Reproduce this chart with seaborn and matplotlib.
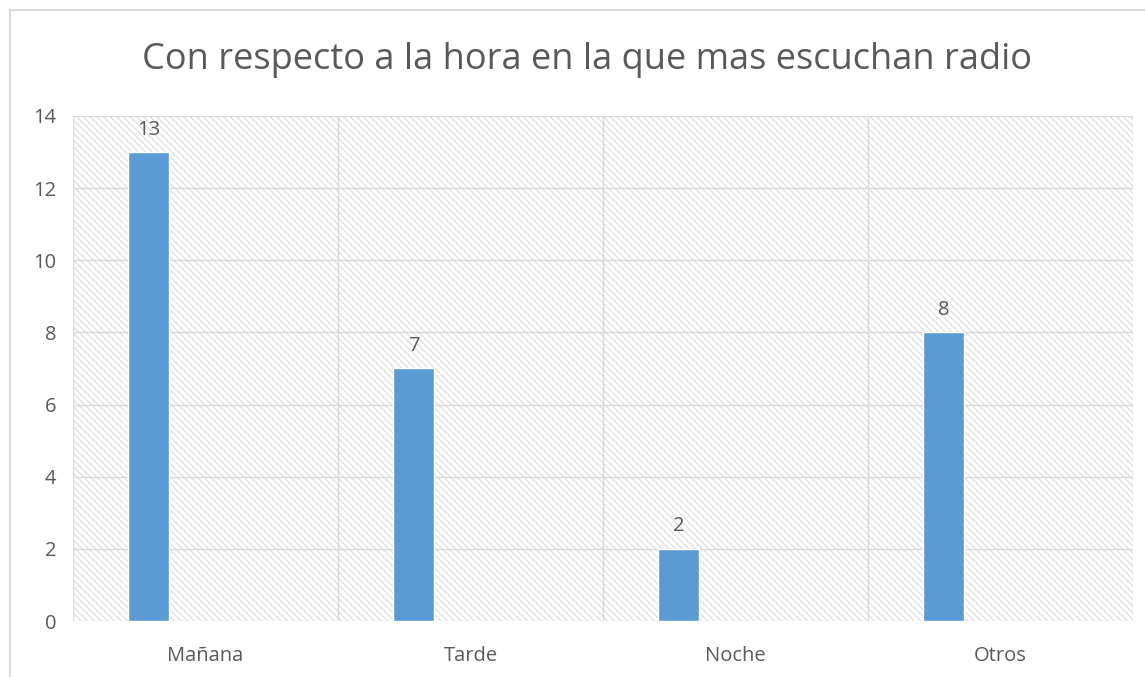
import matplotlib
matplotlib.use("Agg")
import matplotlib.pyplot as plt
import matplotlib.patches as mpatches
import pandas as pd
import seaborn as sns

categories = ["Mañana", "Tarde", "Noche", "Otros"]
counts = [13, 7, 2, 8]
empty_series = [0, 0, 0, 0]  # second (empty) series, like the Excel source
title = "Con respecto a la hora en la que mas escuchan radio"

text_color = "#595959"
grid_color = "#d9d9d9"
bar_color = "#5b9bd5"

sns.set_style("white")
plt.rcParams["font.family"] = ["Open Sans", "DejaVu Sans"]
plt.rcParams["hatch.color"] = "#dadada"
plt.rcParams["hatch.linewidth"] = 0.8

df = pd.DataFrame({
    "hora": categories * 2,
    "valor": counts + empty_series,
    "serie": ["Serie1"] * 4 + ["Serie2"] * 4,
})

fig = plt.figure(figsize=(11.45, 6.77), dpi=100)
ax = fig.add_axes([0.0638, 0.0827, 0.9257, 0.746])

# outer chart border
fig.patches.append(mpatches.Rectangle((10 / 1145, -0.05), 1.1, 1 - 10 / 677 + 0.05,
                                      transform=fig.transFigure, fill=False,
                                      edgecolor=grid_color, linewidth=1.5, zorder=0))

# hatched plot area background
ax.add_patch(mpatches.Rectangle((0, 0), 1, 1, transform=ax.transAxes, facecolor="white",
                                edgecolor="#dadada", hatch="\\\\\\\\\\", linewidth=0, zorder=0))

sns.barplot(data=df, x="hora", y="valor", hue="serie", order=categories,
            palette=[bar_color, bar_color], saturation=1, width=0.86, gap=0.64,
            legend=False, ax=ax, zorder=3)

ax.bar_label(ax.containers[0], labels=[str(v) for v in counts], padding=9,
             fontsize=14.5, color=text_color)

ax.set_xlim(-0.5, len(categories) - 0.5)
ax.set_ylim(0, 14)
ax.set_yticks(range(0, 15, 2))
ax.set_xticks(range(len(categories)))
ax.set_xticks([i - 0.5 for i in range(len(categories) + 1)], minor=True)

ax.grid(axis="y", which="major", color=grid_color, linewidth=1, zorder=1)
ax.grid(axis="x", which="minor", color=grid_color, linewidth=1, zorder=1)
ax.set_axisbelow(True)
for s in ax.spines.values():
    s.set_visible(False)

ax.tick_params(axis="both", which="both", length=0, labelsize=14.5, colors=text_color)
ax.tick_params(axis="x", pad=18)
ax.tick_params(axis="y", pad=12)
ax.set_xlabel("")
ax.set_ylabel("")

fig.text(0.513, 0.912, title, ha="center", va="center", fontsize=26, color=text_color)

fig.savefig("out.png", dpi=100)
